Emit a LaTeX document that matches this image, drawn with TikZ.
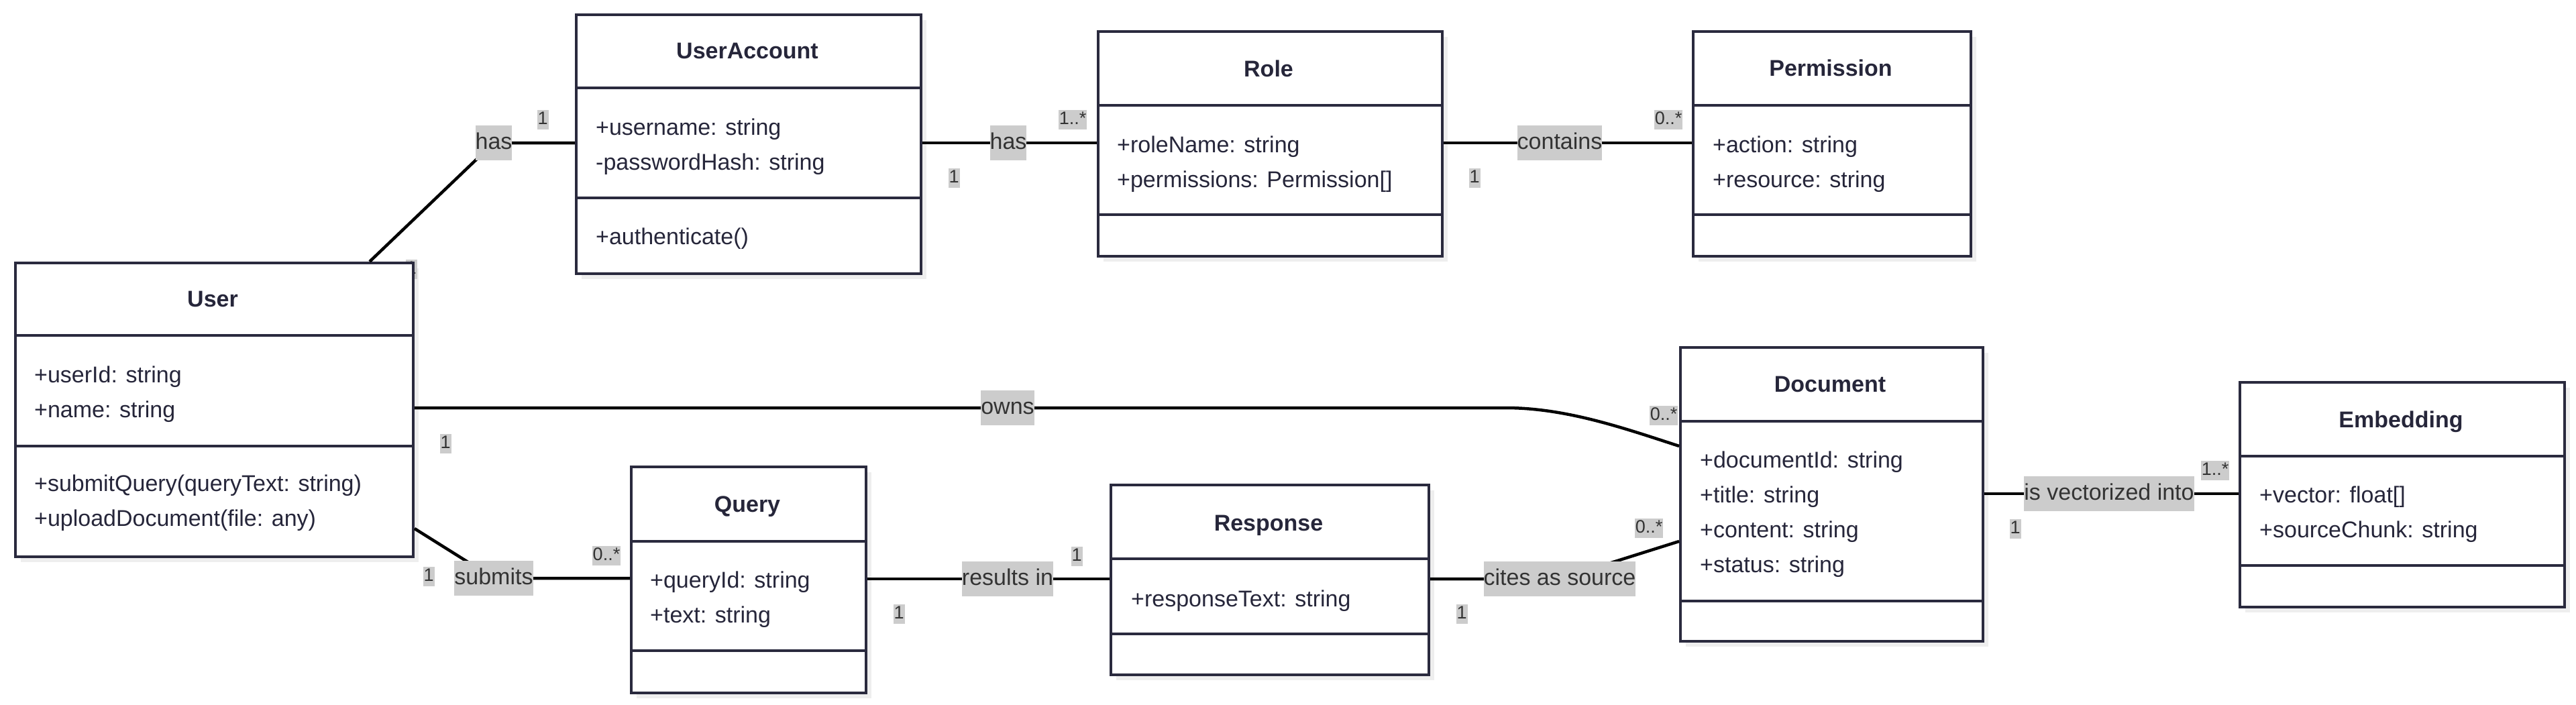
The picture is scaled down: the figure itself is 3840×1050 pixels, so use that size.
\documentclass[tikz,border=0pt]{standalone}
\usepackage{fontspec}
\setmainfont{Liberation Sans}
\usepackage{xcolor}
\usetikzlibrary{calc}

\definecolor{classline}{RGB}{42,42,62}
\definecolor{classtext}{RGB}{38,38,58}
\definecolor{lblgray}{RGB}{204,204,204}
\definecolor{lbltext}{RGB}{51,51,51}
\definecolor{shadowgray}{RGB}{238,238,238}

\begin{document}
\begin{tikzpicture}[x=1pt,y=-1pt,
  classbox/.style={draw=classline,line width=4pt,fill=white,anchor=north west,inner sep=0pt},
  divider/.style={draw=classline,line width=4pt},
  boxshadow/.style={fill=shadowgray},
  ctitle/.style={font=\fontsize{34}{40}\selectfont\bfseries,text=classtext,text height=25pt,text depth=7pt,inner sep=0pt},
  member/.style={font=\fontsize{34}{40}\selectfont,text=classtext,anchor=west,text height=25pt,text depth=7pt,inner sep=0pt},
  edge/.style={draw=black,line width=4.5pt},
  rel/.style={font=\fontsize{34}{40}\selectfont,text=lbltext,fill=lblgray,inner xsep=0pt,inner ysep=10pt,text height=25pt,text depth=7pt},
  mult/.style={font=\fontsize{27}{32}\selectfont,text=lbltext,fill=lblgray,inner xsep=1pt,inner ysep=2pt,text height=20pt,text depth=5pt}]

\useasboundingbox[fill=white] (0,0) rectangle (3840,1050);

  % User
  \fill[boxshadow] (31,400) rectangle (624,838);
  \node[mult] (m-user-acct) at (613,401) {1}; % hidden under the box
  \node[classbox,minimum width=593pt,minimum height=438pt] (user) at (21,390) {};
  \draw[divider] (21,500) -- (614,500);
  \draw[divider] (21,665) -- (614,665);
  \node[ctitle] (user-t) at (317,448) {User};
  \foreach \txt [count=\i] in {+userId: string,+name: string}
    \node[member] (user-a\i) at (51,{561+52*(\i-1)}) {\txt};
  \foreach \txt [count=\i] in {+submitQuery(queryText: string),+uploadDocument(file: any)}
    \node[member] (user-m\i) at (51,{723+52*(\i-1)}) {\txt};

  % UserAccount
  \fill[boxshadow] (867,30) rectangle (1381,416);
  \node[classbox,minimum width=514pt,minimum height=386pt] (acct) at (857,20) {};
  \draw[divider] (857,131) -- (1371,131);
  \draw[divider] (857,295) -- (1371,295);
  \node[ctitle] (acct-t) at (1114,78) {UserAccount};
  \foreach \txt [count=\i] in {+username: string,-passwordHash: string}
    \node[member] (acct-a\i) at (888,{192+52*(\i-1)}) {\txt};
  \node[member] (acct-m1) at (888,355) {+authenticate()};

  % Role
  \fill[boxshadow] (1645,55) rectangle (2158,390);
  \node[classbox,minimum width=513pt,minimum height=335pt] (role) at (1635,45) {};
  \draw[divider] (1635,157) -- (2148,157);
  \draw[divider] (1635,320) -- (2148,320);
  \node[ctitle] (role-t) at (1891,105) {Role};
  \foreach \txt [count=\i] in {+roleName: string,+permissions: Permission[]}
    \node[member] (role-a\i) at (1665,{218+52*(\i-1)}) {\txt};

  % Permission
  \fill[boxshadow] (2532,55) rectangle (2946,390);
  \node[classbox,minimum width=414pt,minimum height=335pt] (perm) at (2522,45) {};
  \draw[divider] (2522,157) -- (2936,157);
  \draw[divider] (2522,320) -- (2936,320);
  \node[ctitle] (perm-t) at (2729,104) {Permission};
  \foreach \txt [count=\i] in {+action: string,+resource: string}
    \node[member] (perm-a\i) at (2553,{218+52*(\i-1)}) {\txt};

  % Query
  \fill[boxshadow] (949,704) rectangle (1299,1041);
  \node[classbox,minimum width=350pt,minimum height=337pt] (query) at (939,694) {};
  \draw[divider] (939,807) -- (1289,807);
  \draw[divider] (939,970) -- (1289,970);
  \node[ctitle] (query-t) at (1114,754) {Query};
  \foreach \txt [count=\i] in {+queryId: string,+text: string}
    \node[member] (query-a\i) at (969,{867+52*(\i-1)}) {\txt};

  % Response
  \fill[boxshadow] (1664,731) rectangle (2138,1014);
  \node[classbox,minimum width=474pt,minimum height=283pt] (resp) at (1654,721) {};
  \draw[divider] (1654,833) -- (2128,833);
  \draw[divider] (1654,945) -- (2128,945);
  \node[ctitle] (resp-t) at (1891,782) {Response};
  \node[member] (resp-a1) at (1686,895) {+responseText: string};

  % Document
  \fill[boxshadow] (2513,526) rectangle (2964,964);
  \node[classbox,minimum width=451pt,minimum height=438pt] (doc) at (2503,516) {};
  \draw[divider] (2503,628) -- (2954,628);
  \draw[divider] (2503,896) -- (2954,896);
  \node[ctitle] (doc-t) at (2728,575) {Document};
  \foreach \txt [count=\i] in {+documentId: string,+title: string,+content: string,+status: string}
    \node[member] (doc-a\i) at (2534,{688+52*(\i-1)}) {\txt};

  % Embedding
  \fill[boxshadow] (3347,578) rectangle (3831,913);
  \node[classbox,minimum width=484pt,minimum height=335pt] (emb) at (3337,568) {};
  \draw[divider] (3337,680) -- (3821,680);
  \draw[divider] (3337,843) -- (3821,843);
  \node[ctitle] (emb-t) at (3579,628) {Embedding};
  \foreach \txt [count=\i] in {+vector: float[],+sourceChunk: string}
    \node[member] (emb-a\i) at (3368,{740+52*(\i-1)}) {\txt};

  % Label spots
  \coordinate (c-has1) at (736,213);
  \coordinate (c-has2) at (1503,213);
  \coordinate (c-contains) at (2325,213);
  \coordinate (c-owns) at (1502,608);
  \coordinate (c-submits) at (736,862);
  \coordinate (c-results) at (1502,863);
  \coordinate (c-cites) at (2325,863);
  \coordinate (c-vect) at (3144,736);

  % Associations
  \draw[edge] ($(user.north west)+(530,0)$) -- (c-has1) -- (c-has1 -| acct.west);
  \draw[edge] (c-has2 -| acct.east) -- (c-has2 -| role.west);
  \draw[edge] (c-contains -| role.east) -- (c-contains -| perm.west);
  \draw[edge] (c-owns -| user.east) -- ++(1626,0)
    .. controls +(90,0) and +(-83,-27) .. ($(doc.north west)+(0,149)$);
  \draw[edge] ($(user.north east)+(0,398)$) -- (c-submits) -- (c-submits -| query.west);
  \draw[edge] (c-results -| query.east) -- (c-results -| resp.west);
  \draw[edge] (c-cites -| resp.east) -- (c-cites) -- ($(doc.north west)+(0,291)$);
  \draw[edge] (c-vect -| doc.east) -- (c-vect -| emb.west);

  % Relation labels
  \node[rel] (has1) at (c-has1) {has};
  \node[rel] (has2) at (c-has2) {has};
  \node[rel] (contains) at (c-contains) {contains};
  \node[rel] (owns) at (c-owns) {owns};
  \node[rel] (submits) at (c-submits) {submits};
  \node[rel] (results) at (c-results) {results in};
  \node[rel] (cites) at (c-cites) {cites as source};
  \node[rel] (vect) at (c-vect) {is vectorized into};

  % Multiplicities
  \node[mult] (m-acct-user) at (809,178) {1};
  \node[mult] (m-acct-role) at (1422,265) {1};
  \node[mult] (m-role-acct) at (1599,178) {1..*};
  \node[mult] (m-role-perm) at (2198,265) {1};
  \node[mult] (m-perm-role) at (2487,178) {0..*};
  \node[mult] (m-user-doc) at (664,661) {1};
  \node[mult] (m-doc-user) at (2480,619) {0..*};
  \node[mult] (m-user-query) at (639,859) {1};
  \node[mult] (m-query-user) at (904,828) {0..*};
  \node[mult] (m-query-resp) at (1340,915) {1};
  \node[mult] (m-resp-query) at (1605,829) {1};
  \node[mult] (m-resp-doc) at (2179,915) {1};
  \node[mult] (m-doc-resp) at (2458,787) {0..*};
  \node[mult] (m-doc-emb) at (3004,788) {1};
  \node[mult] (m-emb-doc) at (3302,701) {1..*};

\end{tikzpicture}
\end{document}
